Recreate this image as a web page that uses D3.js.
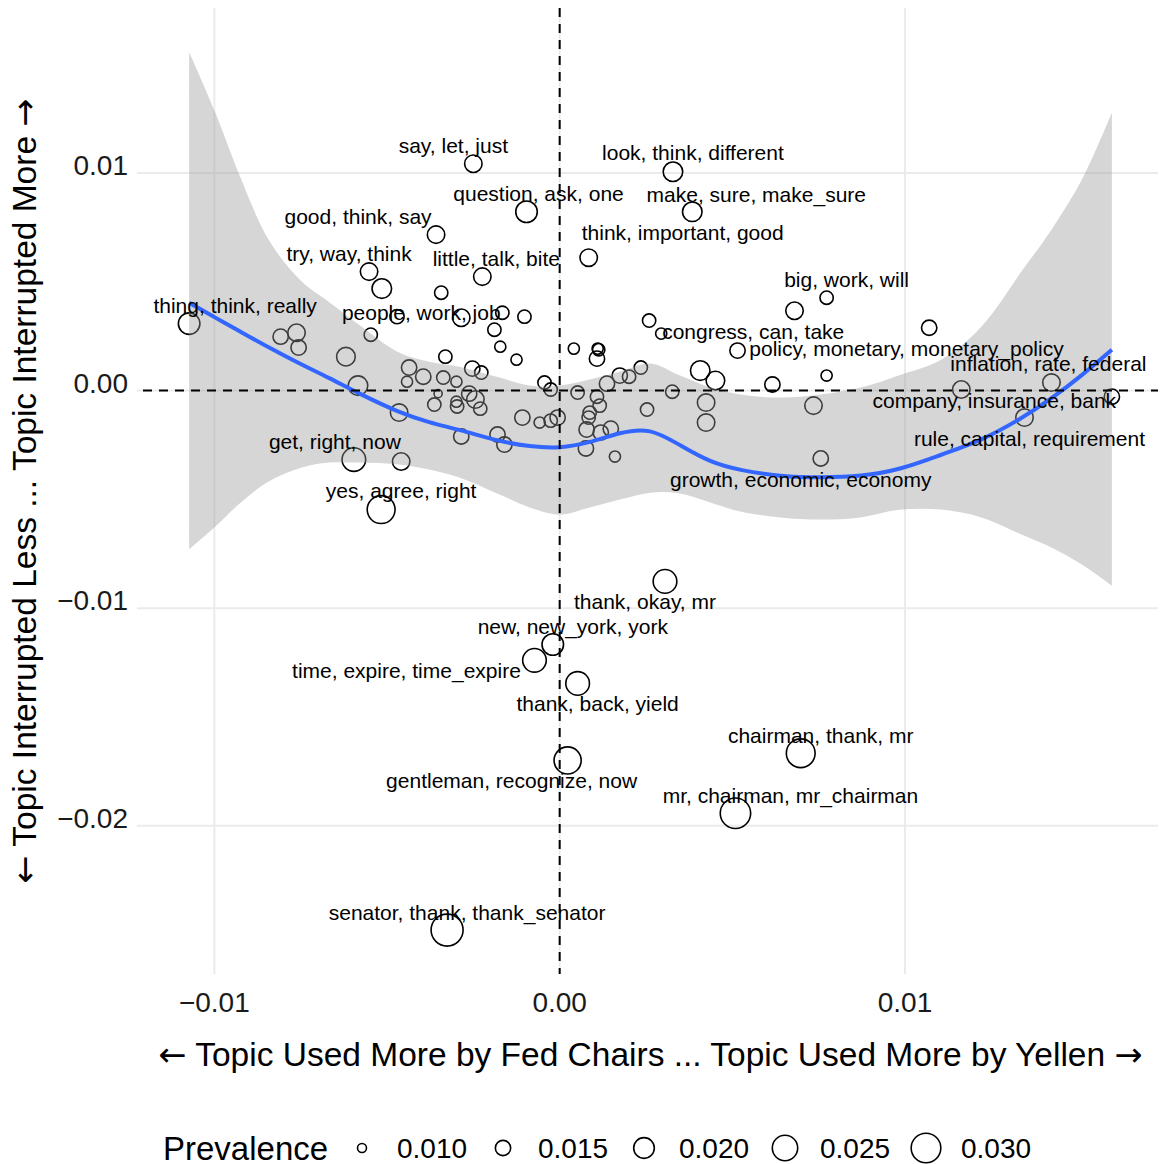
<!DOCTYPE html>
<html>
<head>
<meta charset="utf-8">
<script src="https://cdn.jsdelivr.net/npm/d3@7"></script>
<style>
  body { margin: 0; background: #fff; }
  svg { display: block; font-family: "Liberation Sans", Arial, Helvetica, sans-serif; }
  .arrow { font-family: "DejaVu Sans", sans-serif; }
</style>
</head>
<body>
<div id="chart"></div>
<script>
const W = 1161;
const H = 1164;

// Topics that carry a label
const topicNames = [
  "say, let, just", "look, think, different", "question, ask, one", "make, sure, make_sure",
  "good, think, say", "think, important, good", "try, way, think", "little, talk, bite",
  "big, work, will", "thing, think, really", "people, work, job", "congress, can, take",
  "policy, monetary, monetary_policy", "inflation, rate, federal", "company, insurance, bank",
  "rule, capital, requirement", "growth, economic, economy", "get, right, now", "yes, agree, right",
  "thank, okay, mr", "new, new_york, york", "time, expire, time_expire", "thank, back, yield",
  "chairman, thank, mr", "gentleman, recognize, now", "mr, chairman, mr_chairman",
  "senator, thank, thank_senator"
];
const topicX = [-0.00250, 0.00328, -0.00096, 0.00384, -0.00358, 0.00084, -0.00552, -0.00224,
  0.00773, -0.01073, -0.00285, 0.00294, 0.00515, 0.01424, 0.01163, 0.01346, 0.00756, -0.00596,
  -0.00517, 0.00305, -0.00020, -0.00073, 0.00052, 0.00698, 0.00023, 0.00509, -0.00326];
const topicY = [0.01043, 0.01006, 0.00822, 0.00822, 0.00717, 0.00611, 0.00547, 0.00524,
  0.00427, 0.00308, 0.00335, 0.00262, 0.00184, 0.00037, 0.00005, -0.00124, -0.00312, -0.00317,
  -0.00547, -0.00877, -0.01167, -0.01240, -0.01346, -0.01667, -0.01700, -0.01943, -0.02480];
const topicPrev = [0.0169, 0.0189, 0.0209, 0.0189, 0.0169, 0.0169, 0.0169, 0.0169,
  0.0133, 0.0209, 0.0169, 0.0116, 0.0150, 0.0169, 0.0169, 0.0169, 0.0150, 0.0231,
  0.0279, 0.0231, 0.0209, 0.0231, 0.0231, 0.0290, 0.0270, 0.0310, 0.0330];

// Topics without a label
const otherX = [-0.00515, -0.00343, 0.00680, -0.00471, -0.00166, -0.00102, -0.00189, -0.00172,
  -0.00125, -0.00547, -0.00331, -0.00253, -0.00227, 0.00259, 0.01070, 0.00041, 0.00110, 0.00113,
  0.00108, 0.00407, 0.00451, 0.00616, 0.00773, -0.00044, -0.00026,
  -0.00808, -0.00762, -0.00756, -0.00619, -0.00584, -0.00465, -0.00436, -0.00395, -0.00442,
  -0.00337, -0.00299, -0.00352, -0.00262, -0.00244, -0.00299, -0.00363, -0.00297, -0.00230,
  -0.00285, -0.00459, -0.00180, -0.00160, -0.00108, -0.00058, -0.00026, -0.00006, 0.00052,
  0.00108, 0.00116, 0.00137, 0.00174, 0.00201, 0.00235, 0.00087, 0.00084, 0.00078, 0.00076,
  0.00119, 0.00148, 0.00160, 0.00253, 0.00326, 0.00424, 0.00424, 0.00735, 0.01599];
const otherY = [0.00469, 0.00450, 0.00367, 0.00340, 0.00358, 0.00340, 0.00280, 0.00202,
  0.00142, 0.00257, 0.00156, 0.00101, 0.00083, 0.00322, 0.00289, 0.00193, 0.00193, 0.00188,
  0.00147, 0.00092, 0.00046, 0.00028, 0.00069, 0.00037, 0.00005,
  0.00248, 0.00266, 0.00198, 0.00156, 0.00023, -0.00101, 0.00106, 0.00064, 0.00041,
  0.00060, 0.00041, -0.00014, -0.00014, -0.00041, -0.00051, -0.00064, -0.00073, -0.00083,
  -0.00211, -0.00326, -0.00202, -0.00248, -0.00124, -0.00147, -0.00138, -0.00124, -0.00009,
  -0.00028, -0.00069, 0.00032, 0.00069, 0.00064, 0.00106, -0.00101, -0.00124, -0.00179, -0.00266,
  -0.00193, -0.00175, -0.00303, -0.00087, -0.00005, -0.00055, -0.00147, -0.00069, -0.00028];
const otherPrev = [0.0189, 0.0133, 0.0169, 0.0140, 0.0133, 0.0133, 0.0133, 0.0116,
  0.0116, 0.0133, 0.0133, 0.0150, 0.0133, 0.0133, 0.0150, 0.0116, 0.0116, 0.0125,
  0.0150, 0.0189, 0.0180, 0.0150, 0.0116, 0.0133, 0.0133,
  0.0150, 0.0169, 0.0150, 0.0180, 0.0189, 0.0169, 0.0150, 0.0150, 0.0116,
  0.0133, 0.0116, 0.0094, 0.0150, 0.0169, 0.0116, 0.0133, 0.0133, 0.0133,
  0.0150, 0.0169, 0.0150, 0.0150, 0.0150, 0.0116, 0.0133, 0.0150, 0.0133,
  0.0133, 0.0133, 0.0150, 0.0150, 0.0133, 0.0133, 0.0133, 0.0133, 0.0150, 0.0150,
  0.0150, 0.0150, 0.0116, 0.0133, 0.0133, 0.0169, 0.0169, 0.0169, 0.0150];

// loess fit
const smoothX = [-0.01073, -0.00997, -0.00930, -0.00843, -0.00747, -0.00669, -0.00581, -0.00465,
  -0.00378, -0.00291, -0.00174, -0.00087, 0, 0.00087, 0.00174, 0.00262, 0.00349, 0.00436,
  0.00523, 0.00640, 0.00756, 0.00872, 0.00988, 0.01105, 0.01221, 0.01337, 0.01424, 0.01512, 0.01599];
const smoothFit = [0.00404, 0.00335, 0.00276, 0.00198, 0.00119, 0.00060, -0.00014, -0.00101,
  -0.00147, -0.00179, -0.00234, -0.00257, -0.00266, -0.00239, -0.00192, -0.00170, -0.00252, -0.00330,
  -0.00367, -0.00395, -0.00400, -0.00395, -0.00363, -0.00294, -0.00230, -0.00129, -0.00037, 0.00069, 0.00188];
const smoothUpper = [0.01557, 0.01277, 0.01001, 0.00694, 0.00501, 0.00409, 0.00303, 0.00175,
  0.00133, 0.00110, 0.00060, 0.00023, 0.00023, 0.00051, 0.00087, 0.00125, 0.00069, 0.00014,
  -0.00018, -0.00032, -0.00018, 0.00014, 0.00073, 0.00142, 0.00294, 0.00547, 0.00740, 0.00969, 0.01277];
const smoothLower = [-0.00730, -0.00625, -0.00524, -0.00418, -0.00354, -0.00331, -0.00331, -0.00340,
  -0.00363, -0.00400, -0.00478, -0.00537, -0.00570, -0.00537, -0.00501, -0.00469, -0.00473, -0.00514,
  -0.00556, -0.00583, -0.00593, -0.00583, -0.00547, -0.00547, -0.00583, -0.00661, -0.00721, -0.00799, -0.00896];

const xTicks = [-0.01, 0, 0.01];
const yTicks = [0.01, 0, -0.01, -0.02];
const legendBreaks = [0.010, 0.015, 0.020, 0.025, 0.030];

// hand placed label offsets in pixels (stand-in for ggrepel)
const labelNudge = [[-20, -18], [20, -19], [12, -18], [64, -17], [-78, -18], [94, -25], [-20, -18],
  [14, -18], [20, -18], [46, -18], [-40, -5], [92, -2], [169, -2], [-3, -19], [33, 11], [5, 21],
  [-20, 21], [-19, -18], [20, -19], [-20, 20], [20, -18], [-128, 10], [20, 20], [20, -18],
  [-56, 20], [55, -18], [20, -17]];

const panel = { left: 143, right: 1158, top: 8, bottom: 974 };

// ggplot style 5% expansion
function expand(ext) {
  const pad = (ext[1] - ext[0]) * 0.05;
  return [ext[0] - pad, ext[1] + pad];
}

const xExt = d3.extent(topicX.concat(otherX, smoothX));
const yExt = d3.extent(topicY.concat(otherY, smoothUpper, smoothLower));

const x = d3.scaleLinear().domain(expand(xExt)).range([panel.left, panel.right]);
const y = d3.scaleLinear().domain(expand(yExt)).range([panel.bottom, panel.top]);
const r = d3.scaleSqrt().domain([0.008, 0.033]).range([3, 16]);

const svg = d3.select("#chart").append("svg")
  .attr("width", W)
  .attr("height", H);

// grid
svg.append("g").selectAll("line").data(xTicks).join("line")
  .attr("x1", d => x(d)).attr("x2", d => x(d))
  .attr("y1", panel.top).attr("y2", panel.bottom)
  .attr("stroke", "#ebebeb").attr("stroke-width", 2);
svg.append("g").selectAll("line").data(yTicks).join("line")
  .attr("x1", panel.left - 6).attr("x2", panel.right)
  .attr("y1", d => y(d)).attr("y2", d => y(d))
  .attr("stroke", "#ebebeb").attr("stroke-width", 2);

// points
const points = topicX.map((d, i) => ({ x: d, y: topicY[i], p: topicPrev[i] }))
  .concat(otherX.map((d, i) => ({ x: d, y: otherY[i], p: otherPrev[i] })));

svg.append("g").selectAll("circle").data(points).join("circle")
  .attr("cx", d => x(d.x))
  .attr("cy", d => y(d.y))
  .attr("r", d => r(d.p))
  .attr("fill", "none")
  .attr("stroke", "#000")
  .attr("stroke-width", 1.6);

// smoother
const smooth = smoothX.map((d, i) => ({ x: d, fit: smoothFit[i], lo: smoothLower[i], hi: smoothUpper[i] }));

svg.append("path")
  .datum(smooth)
  .attr("d", d3.area().x(d => x(d.x)).y0(d => y(d.lo)).y1(d => y(d.hi)).curve(d3.curveCatmullRom))
  .attr("fill", "#999999")
  .attr("fill-opacity", 0.4);

svg.append("path")
  .datum(smooth)
  .attr("d", d3.line().x(d => x(d.x)).y(d => y(d.fit)).curve(d3.curveBasis))
  .attr("fill", "none")
  .attr("stroke", "#3366ff")
  .attr("stroke-width", 4);

// reference lines at zero
svg.append("line")
  .attr("x1", x(0)).attr("x2", x(0))
  .attr("y1", panel.top).attr("y2", panel.bottom)
  .attr("stroke", "#000").attr("stroke-width", 2).attr("stroke-dasharray", "9,7");
svg.append("line")
  .attr("x1", panel.left).attr("x2", panel.right)
  .attr("y1", y(0)).attr("y2", y(0))
  .attr("stroke", "#000").attr("stroke-width", 2).attr("stroke-dasharray", "9,7");

// labels
svg.append("g").selectAll("text").data(topicNames).join("text")
  .attr("x", (d, i) => x(topicX[i]) + labelNudge[i][0])
  .attr("y", (d, i) => y(topicY[i]) + labelNudge[i][1])
  .attr("dy", "0.35em")
  .attr("text-anchor", "middle")
  .attr("font-size", 21)
  .attr("fill", "#000")
  .text(d => d);

// axes text
const fmt = d3.format(".2f");
function tickText(v) {
  return fmt(v).replace("-", "\u2212");
}

svg.append("g").selectAll("text").data(xTicks).join("text")
  .attr("x", d => x(d))
  .attr("y", 1012)
  .attr("text-anchor", "middle")
  .attr("font-size", 28)
  .attr("fill", "#1a1a1a")
  .text(tickText);

svg.append("g").selectAll("text").data(yTicks).join("text")
  .attr("x", 128)
  .attr("y", d => y(d) + 2)
  .attr("text-anchor", "end")
  .attr("font-size", 28)
  .attr("fill", "#1a1a1a")
  .text(tickText);

// axis titles, arrows drawn with a font that has full size arrows
function arrowTitle(sel, before, mid, after) {
  sel.append("tspan").attr("class", "arrow").text(before);
  sel.append("tspan").text(mid);
  sel.append("tspan").attr("class", "arrow").text(after);
}

const xTitle = svg.append("text")
  .attr("x", (panel.left + panel.right) / 2)
  .attr("y", 1066)
  .attr("text-anchor", "middle")
  .attr("font-size", 33.5);
arrowTitle(xTitle, "\u2190", " Topic Used More by Fed Chairs ... Topic Used More by Yellen ", "\u2192");

const yTitle = svg.append("text")
  .attr("transform", `translate(36, ${(panel.top + panel.bottom) / 2}) rotate(-90)`)
  .attr("text-anchor", "middle")
  .attr("font-size", 33.5);
arrowTitle(yTitle, "\u2190", " Topic Interrupted Less ... Topic Interrupted More ", "\u2192");

// legend
const legend = svg.append("g");
legend.append("text")
  .attr("x", 163)
  .attr("y", 1160)
  .attr("font-size", 33)
  .text("Prevalence");

const keys = legend.selectAll("g.key").data(legendBreaks).join("g")
  .attr("class", "key")
  .attr("transform", (d, i) => `translate(${362 + i * 141}, 1148)`);
keys.append("circle")
  .attr("r", d => r(d))
  .attr("fill", "none")
  .attr("stroke", "#000")
  .attr("stroke-width", 1.6);
keys.append("text")
  .attr("x", 35)
  .attr("y", 10)
  .attr("font-size", 28)
  .text(d => d3.format(".3f")(d));
</script>
</body>
</html>
